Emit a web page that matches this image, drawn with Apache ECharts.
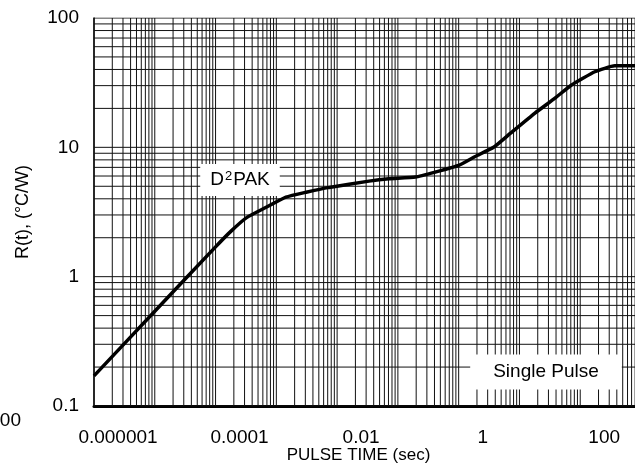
<!DOCTYPE html>
<html>
<head>
<meta charset="utf-8">
<script src="https://cdn.jsdelivr.net/npm/echarts@6/dist/echarts.min.js"></script>
<style>
  html, body { margin: 0; padding: 0; background: #fff; overflow: hidden; }
  #char { width: 635px; height: 468px; }
</style>
</head>
<body>
<div id="char"></div>
<script>
// pulse time (sec) and thermal resistance R(t)
const pulseTime = [1e-6, 1e-5, 1e-4, 1.8e-4, 3.2e-4, 6.8e-4, 1.44e-3, 3.1e-3, 7.4e-3, 0.0335, 0.071, 0.195, 0.415, 1, 1.88, 3.75, 7.05, 18, 38.5, 71, 174, 370, 1000]
const rValue = [0.171, 0.54, 1.7, 2.25, 2.85, 3.44, 4.12, 4.5, 4.9, 5.48, 5.71, 5.89, 6.44, 7.25, 8.5, 10.0, 12.8, 18.4, 24, 30.2, 38.4, 42.7, 42.7]

// tick labels
const xTickLabels = { '-6': '0.000001', '-4': '0.0001', '-2': '0.01', '0': '1', '2': '100' }
const yTickLabels = { '-1': '0.1', '0': '1', '1': '10', '2': '100' }

// log grid: decades and multipliers
const xDecades = [-6, -5, -4, -3, -2, -1, 0, 1, 2]
const yDecades = [-1, 0, 1]
const mults = [1, 2, 3, 4, 5, 6, 7, 8, 9]

const xMin = 1e-6, xMax = 1000, yMin = 0.1, yMax = 100
const font = "'Liberation Sans', Arial, Helvetica, sans-serif"

let myChart = echarts.init(document.getElementById('char'))

// grid lines as plain line series (markLine rounds tiny values)
let gridSeries = []
function gridLine(data) {
  gridSeries.push({
    type: 'line',
    data: data,
    z: 1,
    silent: true,
    showSymbol: false,
    symbol: 'none',
    lineStyle: { color: '#111', width: 1 }
  })
}
let xs = []
xDecades.forEach((d) => mults.forEach((m) => xs.push(m * Math.pow(10, d))))
xs.push(xMax)
xs.forEach((x) => gridLine([[x, yMin], [x, yMax]]))
let ys = []
yDecades.forEach((d) => mults.forEach((m) => ys.push(m * Math.pow(10, d))))
ys.push(yMax)
ys.forEach((y) => gridLine([[xMin, y], [xMax, y]]))

let option = {
  animation: false,
  backgroundColor: '#fff',
  textStyle: { fontFamily: font },
  grid: {
    left: 94,
    right: -6,
    top: 18,
    bottom: 62,
    containLabel: false,
    outerBoundsMode: 'none'
  },
  xAxis: {
    type: 'log',
    logBase: 10,
    min: xMin,
    max: xMax,
    name: 'PULSE TIME (sec)',
    nameLocation: 'middle',
    nameGap: 41,
    nameMoveOverlap: false,
    nameTextStyle: { color: '#000', fontSize: 17, fontFamily: font, padding: [0, 18, 0, 0] },
    axisLine: { show: true, lineStyle: { color: '#000', width: 3 } },
    axisTick: { show: false },
    splitLine: { show: false },
    axisLabel: {
      color: '#000',
      fontSize: 19,
      fontFamily: font,
      margin: 22,
      padding: [0, 0, 0, 48],
      formatter: function (v) {
        let k = Math.round(Math.log10(v))
        return xTickLabels[k] || ''
      }
    }
  },
  yAxis: {
    type: 'log',
    logBase: 10,
    min: yMin,
    max: yMax,
    name: 'R(t), (°C/W)',
    nameLocation: 'middle',
    nameGap: 62,
    nameRotate: 90,
    nameMoveOverlap: false,
    nameTextStyle: { color: '#000', fontSize: 18, fontFamily: font },
    axisLine: { show: true, lineStyle: { color: '#000', width: 1.5 } },
    axisTick: { show: false },
    splitLine: { show: false },
    axisLabel: {
      color: '#000',
      fontSize: 19,
      fontFamily: font,
      margin: 15,
      formatter: function (v) {
        let k = Math.round(Math.log10(v))
        return yTickLabels[k] || ''
      }
    }
  },
  graphic: [
    {
      type: 'text',
      x: 240,
      y: 180,
      z: 100,
      style: {
        text: '{a|D}{b|2}{a|PAK}',
        align: 'center',
        verticalAlign: 'middle',
        backgroundColor: '#fff',
        padding: [5, 10, 5, 10],
        rich: {
          a: { fontSize: 19, fontFamily: font, fill: '#000', lineHeight: 22 },
          b: { fontSize: 13, fontFamily: font, fill: '#000', padding: [0, 1, 8, 1] }
        }
      }
    },
    {
      type: 'text',
      x: 546,
      y: 372,
      z: 100,
      style: {
        text: 'Single Pulse',
        fontSize: 19,
        fontFamily: font,
        fill: '#000',
        align: 'center',
        verticalAlign: 'middle',
        backgroundColor: '#fff',
        padding: [8, 23, 8, 23]
      }
    },
    {
      type: 'text',
      x: 21,
      y: 421,
      style: {
        text: '100',
        fontSize: 19,
        fontFamily: font,
        fill: '#000',
        align: 'right',
        verticalAlign: 'middle'
      }
    }
  ],
  series: gridSeries.concat([
    {
      name: 'D2PAK',
      type: 'line',
      z: 5,
      data: pulseTime.map((t, i) => [t, rValue[i]]),
      showSymbol: false,
      smooth: 0.15,
      lineStyle: { color: '#000', width: 3.5 }
    }
  ])
}

myChart.setOption(option)
</script>
</body>
</html>
